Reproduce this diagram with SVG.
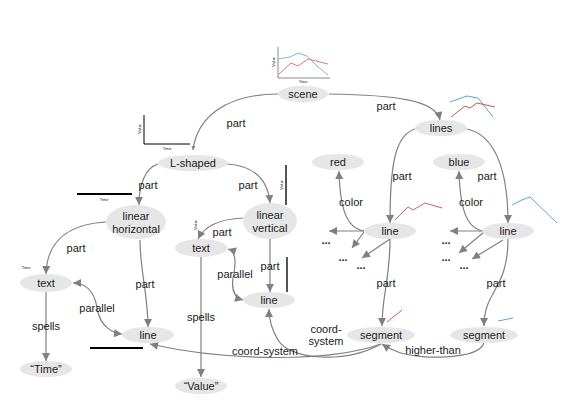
<svg xmlns="http://www.w3.org/2000/svg" width="566" height="405" viewBox="0 0 566 405">
<style>
.n ellipse{fill:#e6e6e6;stroke:none}
text{font-family:"Liberation Sans",Arial,sans-serif;font-size:11px;fill:#1a1a1a;text-anchor:middle}
.e path{fill:none;stroke:#808080;stroke-width:1.2;marker-end:url(#ah)}
.e path.bi{marker-start:url(#ah)}
.e path.sm{marker-end:url(#ahs)}
.tiny{font-size:4px}
.dots{font-weight:bold;font-size:11px}
.th{fill:none;stroke-width:1}
</style>
<defs>
<marker id="ah" viewBox="0 0 10 10" refX="10" refY="5" markerWidth="9" markerHeight="8" markerUnits="userSpaceOnUse" orient="auto-start-reverse"><path d="M0,0 L10,5 L0,10 z" fill="#808080"/></marker>
<marker id="ahs" viewBox="0 0 10 10" refX="10" refY="5" markerWidth="4" markerHeight="4" markerUnits="userSpaceOnUse" orient="auto"><path d="M0,0 L10,5 L0,10 z" fill="#808080"/></marker>
</defs>
<rect width="566" height="405" fill="#fff"/>

<g id="thumbnails">
<path class="th" d="M278,47 L278,78 L330,78" stroke="#888"/>
<polyline class="th" points="278,59 290,57 298,53 307,56 317,66 328,75" stroke="#7ab8d8"/>
<polyline class="th" points="279,74 291,63 298,66 308,59 328,64" stroke="#d87a7a"/>
<text class="tiny" x="303" y="83">Time</text>
<text class="tiny" transform="translate(275,62) rotate(-90)">Value</text>
<path class="th" d="M144,115 L144,144 L190,144" stroke="#000" stroke-width="2"/>
<text class="tiny" x="167" y="150">Time</text>
<text class="tiny" transform="translate(141,129) rotate(-90)">Value</text>
<path d="M77,194 L132,194" stroke="#000" stroke-width="2"/>
<text class="tiny" x="104" y="201">Time</text>
<text class="tiny" x="26" y="269">Time</text>
<path d="M286,165 L286,205" stroke="#555" stroke-width="2"/>
<text class="tiny" transform="translate(283,185) rotate(-90)">Value</text>
<text class="tiny" transform="translate(197,225) rotate(-90)">Value</text>
<path d="M287,257 L287,292" stroke="#555" stroke-width="2"/>
<path d="M90,348 L143,348" stroke="#000" stroke-width="2"/>
<polyline class="th" points="450,102 467,96 478,98 493,117" stroke="#5aa0d0"/>
<polyline class="th" points="451,117 465,106 470,108 477,103 495,107" stroke="#c85050"/>
<polyline class="th" points="395,220 408,207 413,210 425,203 442,208" stroke="#d06060"/>
<polyline class="th" points="512,205 522,200 530,197 557,223" stroke="#5aa8d8"/>
<path d="M387,322 L402,310" stroke="#d06060" stroke-width="1"/>
<path d="M498,321 L513,318" stroke="#5aa8d8" stroke-width="1"/>
</g>

<g id="connectors" class="e">
<path class="sm" d="M278,94 C225,94 197,118 193,150"/>
<path d="M329,94 C395,95 436,100 440,120"/>
<path d="M158,164 C145,168 139,185 139,205"/>
<path d="M227,164 C255,166 268,180 270,203"/>
<path d="M106,222 C70,224 47,240 46,274"/>
<path d="M140,240 C140,270 148,295 148,327"/>
<path class="bi" d="M73,283 C92,283 96,300 98,312 C101,326 112,333 122,334"/>
<path d="M46,292 L46,361"/>
<path d="M243,218 C220,219 205,225 198,239"/>
<path d="M270,239 L270,292"/>
<path class="bi" d="M228,249 C238,252 235,268 233,278 C231,292 236,298 243,300"/>
<path d="M201,257 L201,377"/>
<path d="M415,129 C395,135 390,165 390,223"/>
<path d="M467,129 C495,135 508,170 508,223"/>
<path d="M364,231 C345,228 340,205 339,171"/>
<path d="M483,231 C465,228 460,205 459,171"/>
<path d="M364,231 L329,231"/>
<path d="M364,232 L352,248"/>
<path d="M390,239 L362,258"/>
<path d="M483,231 L450,231"/>
<path d="M484,232 L459,253"/>
<path d="M503,240 L472,259"/>
<path d="M390,239 C390,280 382,295 382,326"/>
<path d="M508,239 C508,290 484,290 484,326"/>
<path d="M484,343 C478,360 420,360 398,352 C390,349 385,346 382,344"/>
<path d="M381,344 C330,362 230,362 150,344"/>
<path d="M381,344 C345,364 290,360 278,340 C272,330 269,320 269,309"/>
</g>

<g id="edge-labels">
<text x="236" y="127">part</text>
<text x="386" y="110">part</text>
<text x="148" y="189">part</text>
<text x="248" y="189">part</text>
<text x="76" y="252">part</text>
<text x="145" y="288">part</text>
<text x="97" y="312">parallel</text>
<text x="46" y="330">spells</text>
<text x="222" y="236">part</text>
<text x="270" y="270">part</text>
<text x="235" y="278">parallel</text>
<text x="201" y="321">spells</text>
<text x="402" y="180">part</text>
<text x="487" y="180">part</text>
<text x="351" y="206">color</text>
<text x="471" y="206">color</text>
<text x="386" y="287">part</text>
<text x="496" y="287">part</text>
<text x="433" y="354">higher-than</text>
<text x="265" y="355">coord-system</text>
<text x="326" y="333">coord-</text>
<text x="326" y="345">system</text>
<text class="dots" x="326" y="244">...</text>
<text class="dots" x="343" y="261">...</text>
<text class="dots" x="361" y="269">...</text>
<text class="dots" x="446" y="244">...</text>
<text class="dots" x="446" y="261">...</text>
<text class="dots" x="464" y="269">...</text>
</g>

<g id="node-scene" class="n"><ellipse cx="303" cy="94" rx="25" ry="8"/><text x="303" y="98">scene</text></g>
<g id="node-lines" class="n"><ellipse cx="441" cy="128" rx="26" ry="8"/><text x="441" y="132">lines</text></g>
<g id="node-lshaped" class="n"><ellipse cx="193" cy="163" rx="35" ry="8"/><text x="193" y="167">L-shaped</text></g>
<g id="node-red" class="n"><ellipse cx="338" cy="162" rx="26" ry="8"/><text x="338" y="166">red</text></g>
<g id="node-blue" class="n"><ellipse cx="459" cy="162" rx="26" ry="8"/><text x="459" y="166">blue</text></g>
<g id="node-linear-horizontal" class="n"><ellipse cx="136" cy="222" rx="30" ry="17"/><text x="136" y="220">linear</text><text x="136" y="233">horizontal</text></g>
<g id="node-linear-vertical" class="n"><ellipse cx="270" cy="221" rx="27" ry="18"/><text x="270" y="219">linear</text><text x="270" y="232">vertical</text></g>
<g id="node-text-left" class="n"><ellipse cx="46" cy="283" rx="26" ry="9"/><text x="46" y="287">text</text></g>
<g id="node-text-mid" class="n"><ellipse cx="201" cy="248" rx="26" ry="9"/><text x="201" y="252">text</text></g>
<g id="node-line-left" class="n"><ellipse cx="148" cy="335" rx="26" ry="8"/><text x="148" y="339">line</text></g>
<g id="node-line-mid" class="n"><ellipse cx="269" cy="300" rx="26" ry="8"/><text x="269" y="304">line</text></g>
<g id="node-time" class="n"><ellipse cx="46" cy="369" rx="26" ry="8"/><text x="46" y="373">“Time”</text></g>
<g id="node-value" class="n"><ellipse cx="201" cy="386" rx="26" ry="8"/><text x="201" y="390">“Value”</text></g>
<g id="node-line-red" class="n"><ellipse cx="390" cy="231" rx="26" ry="8"/><text x="390" y="235">line</text></g>
<g id="node-line-blue" class="n"><ellipse cx="508" cy="231" rx="26" ry="8"/><text x="508" y="235">line</text></g>
<g id="node-segment-red" class="n"><ellipse cx="381" cy="335" rx="34" ry="8"/><text x="381" y="339">segment</text></g>
<g id="node-segment-blue" class="n"><ellipse cx="484" cy="335" rx="34" ry="8"/><text x="484" y="339">segment</text></g>
</svg>
